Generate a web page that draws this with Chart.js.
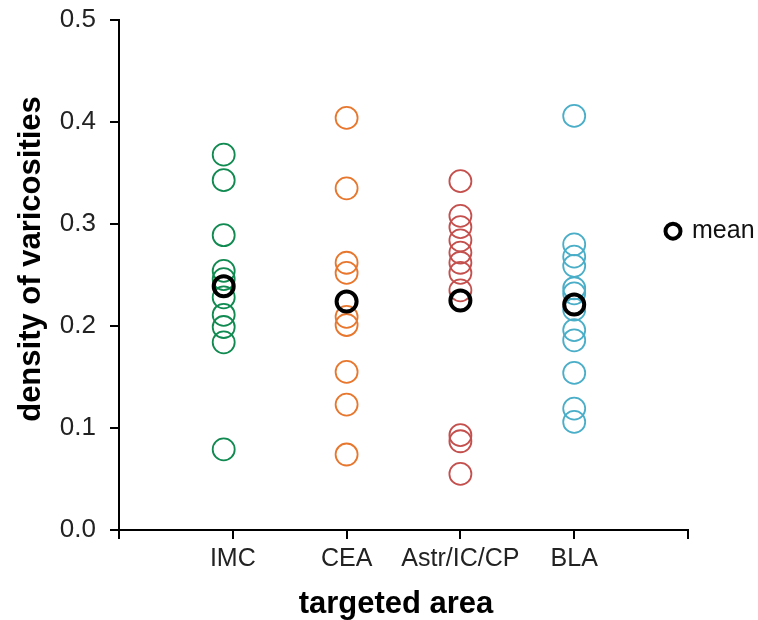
<!DOCTYPE html>
<html>
<head>
<meta charset="utf-8">
<script src="https://cdn.jsdelivr.net/npm/chart.js@4"></script>
<style>
  html, body { margin: 0; padding: 0; background: #fff; }
  #wrap { width: 758px; height: 620px; }
</style>
</head>
<body>
<div id="wrap"><canvas id="chart" width="758" height="620"></canvas></div>
<script>
// groups along the x axis
var areas = ['IMC', 'CEA', 'Astr/IC/CP', 'BLA'];
var areaX = [0.92, 2, 3, 4];
var areaColors = ['#108a50', '#e8772e', '#c4504e', '#4aaec8'];

// density of varicosities per animal
var imcValues = [0.368, 0.343, 0.289, 0.254, 0.246, 0.228, 0.211, 0.199, 0.184, 0.079];
var ceaValues = [0.404, 0.335, 0.262, 0.252, 0.209, 0.201, 0.155, 0.123, 0.074];
var astrValues = [0.342, 0.308, 0.297, 0.284, 0.272, 0.262, 0.252, 0.235, 0.093, 0.087, 0.055];
var blaValues = [0.406, 0.280, 0.268, 0.259, 0.237, 0.232, 0.216, 0.196, 0.186, 0.154, 0.119, 0.106];
var meanValues = [0.239, 0.224, 0.225, 0.221];

var xTickPos = [0, 1, 2, 3, 4, 5];
var yTicks = [0.0, 0.1, 0.2, 0.3, 0.4, 0.5];

var font = "'Liberation Sans', Arial, sans-serif";

function groupPoints(vals, pos) {
    return vals.map(function(v) { return { x: pos, y: v }; });
}

var groups = [imcValues, ceaValues, astrValues, blaValues];
var datasets = groups.map(function(vals, i) {
    return {
        label: areas[i],
        data: groupPoints(vals, areaX[i]),
        borderColor: areaColors[i],
        backgroundColor: 'rgba(0,0,0,0)',
        borderWidth: 1.8,
        pointRadius: 11,
        pointHoverRadius: 11,
        order: 2
    };
});
datasets.push({
    label: 'mean',
    data: meanValues.map(function(v, i) { return { x: areaX[i], y: v }; }),
    borderColor: '#000',
    backgroundColor: 'rgba(0,0,0,0)',
    borderWidth: 4,
    pointRadius: 10,
    pointHoverRadius: 10,
    order: 1
});

// axis titles and the small "o mean" key beside the plot
var extras = {
    id: 'extras',
    afterDraw: function(chart) {
        var ctx = chart.ctx;
        var area = chart.chartArea;
        var y = chart.scales.y.getPixelForValue(0.293);
        ctx.save();
        ctx.beginPath();
        ctx.arc(area.right - 15, y, 7.5, 0, Math.PI * 2);
        ctx.lineWidth = 4;
        ctx.strokeStyle = '#000';
        ctx.stroke();
        ctx.fillStyle = '#111';
        ctx.font = '25px ' + font;
        ctx.textAlign = 'left';
        ctx.textBaseline = 'middle';
        ctx.fillText('mean', area.right + 4, y);

        ctx.fillStyle = '#000';
        ctx.font = 'bold 31px ' + font;
        ctx.textAlign = 'center';
        ctx.fillText('targeted area', 396, 604);

        ctx.translate(31, 259);
        ctx.rotate(-Math.PI / 2);
        ctx.fillText('density of varicosities', 0, 0);
        ctx.restore();
    }
};

new Chart(document.getElementById('chart'), {
    type: 'scatter',
    data: { datasets: datasets },
    options: {
        responsive: false,
        animation: false,
        layout: { padding: { top: 20, right: 70, left: 0, bottom: 0 } },
        plugins: {
            legend: { display: false },
            tooltip: { enabled: false }
        },
        scales: {
            x: {
                type: 'linear',
                min: 0,
                max: 5,
                afterBuildTicks: function(s) {
                    s.ticks = xTickPos.map(function(v) { return { value: v }; });
                },
                afterFit: function(s) {
                    s.height = 90;
                    s.paddingLeft = 0;
                    s.paddingRight = 0;
                },
                ticks: {
                    color: '#222',
                    font: { family: font, size: 25 },
                    padding: 5,
                    maxRotation: 0,
                    autoSkip: false,
                    callback: function(v) { return areas[v - 1] || ''; }
                },
                grid: { drawOnChartArea: false, drawTicks: true, tickLength: 9, color: '#000', lineWidth: 2 },
                border: { display: true, color: '#000', width: 2 }
            },
            y: {
                min: 0,
                max: 0.5,
                afterBuildTicks: function(s) {
                    s.ticks = yTicks.map(function(v) { return { value: v }; });
                },
                afterFit: function(s) {
                    s.width = 119;
                    s.paddingTop = 0;
                    s.paddingBottom = 0;
                },
                ticks: {
                    color: '#222',
                    font: { family: font, size: 26 },
                    padding: 14,
                    callback: function(v) { return v.toFixed(1); }
                },
                grid: { drawOnChartArea: false, drawTicks: true, tickLength: 9, color: '#000', lineWidth: 2 },
                border: { display: true, color: '#000', width: 2 }
            }
        }
    },
    plugins: [extras]
});
</script>
</body>
</html>
